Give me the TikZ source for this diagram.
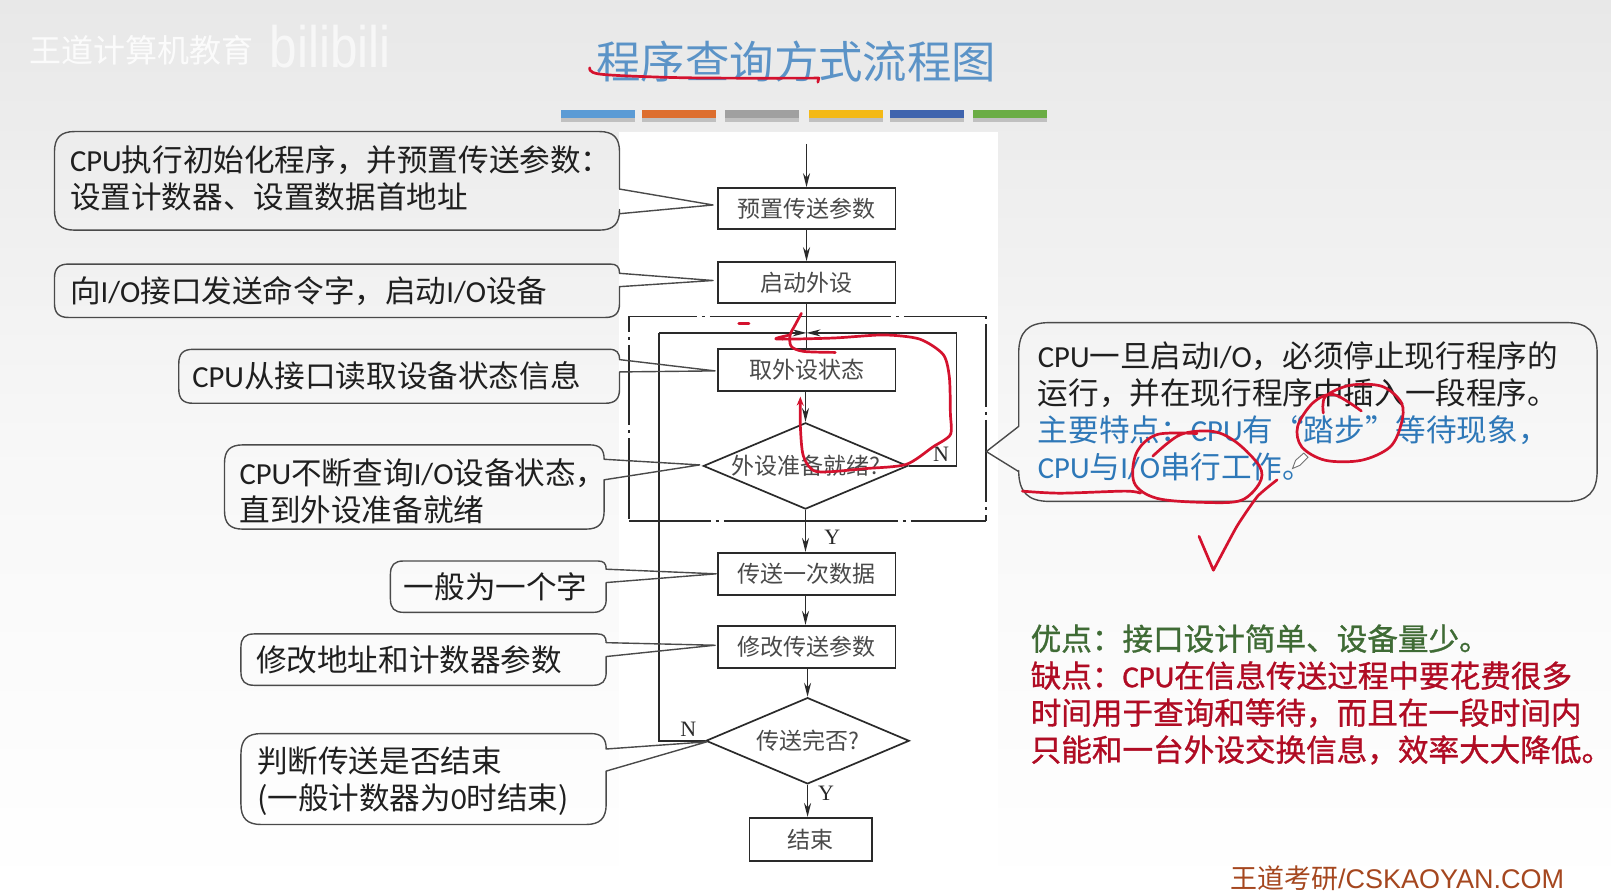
\documentclass[tikz,border=0pt]{standalone}
\usepackage{fontspec}
\setmainfont{Noto Sans CJK SC}
\newfontfamily\latfont{Carlito}
\newfontfamily\medfont[FakeBold=1]{Noto Sans CJK SC}
\newfontfamily\medlat[FakeBold=1]{Carlito}
\newfontfamily\serfont{Liberation Serif}
\newfontfamily\arifont{Liberation Sans}
\newcommand\ltn[1]{{\latfont #1}}
\newcommand\mlt[1]{{\medlat #1}}
\usetikzlibrary{shapes.geometric,arrows.meta}
\definecolor{inkred}{HTML}{D4122E}
\definecolor{flowink}{HTML}{2A2A2A}
\definecolor{flowtxt}{HTML}{4A4A4A}
\definecolor{callink}{HTML}{4A4A4A}
\definecolor{titleblue}{HTML}{5B93C7}
\definecolor{footbrown}{HTML}{A5471F}
\tikzset{
  flowbox/.style={draw=flowink,line width=1.7pt,rectangle,inner sep=0pt,text=flowtxt,font=\fontsize{23}{26}\selectfont},
  flowdia/.style={draw=flowink,line width=1.7pt,diamond,aspect=2.4,inner sep=0pt,text=flowtxt,font=\fontsize{23}{26}\selectfont},
  flowline/.style={draw=flowink,line width=1.7pt},
  flowarr/.style={flowline,-{Stealth[length=14pt,width=7pt]}},
  lab/.style={inner sep=0pt,text=flowink,font=\fontsize{22}{24}\serfont},
  calltext/.style={anchor=west,inner sep=0pt,align=left,text=black!88,font=\fontsize{30.6}{37}\selectfont},
  redpen/.style={draw=inkred,line width=2.7pt,line cap=round,line join=round},
  shadowbar/.style={fill=black!45,opacity=.45},
}
% callout: x1 y1 x2 y2 base1 base2 tip-name radius
\newcommand\callout[8]{%
  \pgfmathsetmacro\sgn{ifthenelse(#3>#1,1,-1)}%
  \pgfmathsetmacro\rtop{min(#8,#5-#2)}%
  \draw[draw=callink,line width=1.4pt,line join=round]
    (#1+\sgn*#8,#2) -- (#3-\sgn*\rtop,#2) .. controls (#3-\sgn*\rtop*0.3,#2) and (#3,#2+\rtop*0.3) .. (#3,#2+\rtop) -- (#3,#5)
    -- (#7) -- (#3,#6)
    -- (#3,#4-#8) .. controls (#3,#4-#8*0.3) and (#3-\sgn*#8*0.3,#4) .. (#3-\sgn*#8,#4) -- (#1+\sgn*#8,#4) .. controls (#1+\sgn*#8*0.3,#4) and (#1,#4-#8*0.3) .. (#1,#4-#8) -- (#1,#2+#8) .. controls (#1,#2+#8*0.3) and (#1+\sgn*#8*0.3,#2) .. (#1+\sgn*#8,#2) -- cycle;}
\begin{document}
\begin{tikzpicture}[x=1.0274pt,y=-1.0274pt]
\useasboundingbox (0,0) rectangle (1568,871);
\shade[top color=black!9,bottom color=white,middle color=black!3] (0,0) rectangle (1568,871);
\fill[white] (602,128) rectangle (971,871);

% watermark
\node[anchor=west,inner sep=0pt,text=white,opacity=.85,font=\fontsize{32}{33}\selectfont] (wm) at (29,49) {王道计算机教育};
\node[anchor=west,inner sep=0pt,text=white,opacity=.65,font=\fontsize{30}{33}\arifont,yscale=1.95,xscale=1.65] (bili) at (262,45) {bilibili};

% title and bars
\node[inner sep=0pt,text=titleblue,font=\fontsize{44.4}{48}\selectfont] (title) at (775,60) {程序查询方式流程图};
\foreach \xa/\xb/\col in {546/618/5B9BD5,625/697/DD6E2E,706/778/A0A0A0,787/859/F4B916,866/938/3F64AE,947/1019/6BAD45}{
  \fill[shadowbar] (\xa,109) rectangle (\xb,119);
  \definecolor{bc}{HTML}{\col}
  \fill[bc] (\xa,107) rectangle (\xb,115);
}

% flow chart
\coordinate (start) at (785,140);
\node[flowbox,minimum width=1.0274*173pt,minimum height=1.0274*40pt] (b1) at (785,203) {预置传送参数};
\node[flowbox,minimum width=1.0274*173pt,minimum height=1.0274*40pt] (b2) at (785,275) {启动外设};
\node[flowbox,minimum width=1.0274*173pt,minimum height=1.0274*41pt] (b3) at (785,360) {取外设状态};
\node[flowdia,minimum width=1.0274*199pt,minimum height=1.0274*84pt] (d1) at (784,453.5) {外设准备就绪?};
\node[flowbox,minimum width=1.0274*173pt,minimum height=1.0274*41pt] (b4) at (785,558.5) {传送一次数据};
\node[flowbox,minimum width=1.0274*173pt,minimum height=1.0274*41pt] (b5) at (785,629.5) {修改传送参数};
\node[flowdia,minimum width=1.0274*198pt,minimum height=1.0274*84pt] (d2) at (786,721) {传送完否?};
\node[flowbox,minimum width=1.0274*119pt,minimum height=1.0274*42pt] (b6) at (789,817) {结束};

\coordinate (j1) at (785,324);
\coordinate (rt) at (931,324);
\coordinate (rb) at (931,453.5);
\coordinate (lt) at (641.5,324);
\coordinate (lb) at (641.5,721);
\draw[flowarr] (start) -- (b1.north -| start);
\draw[flowarr] (b1.south -| start) -- (b2.north -| start);
\draw[flowline] (b2.south -| j1) -- (b3.north -| j1);
\draw[flowarr] (rt) -- (j1);
\draw[flowarr] (lt) -- (j1);
\draw[flowarr] (b3.south -| d1) -- (d1.north);
\draw[flowline] (d1.east) -- (rb) -- (rt);
\draw[flowarr] (d1.south) -- (b4.north -| d1);
\draw[flowarr] (b4.south -| d1) -- (b5.north -| d1);
\draw[flowarr] (b5.south -| d2) -- (d2.north);
\draw[flowarr] (d2.south) -- (b6.north -| d2);
\draw[flowline] (d2.west) -- (lb) -- (lt);

% dash-dot frame
\coordinate (fa) at (612,308);
\coordinate (fb) at (960,507);
\draw[flowline,dash pattern=on 181pt off 5pt on 3pt off 5pt,dash phase=113pt] (fa) -- (fa -| fb);
\draw[flowline,dash pattern=on 174pt off 5pt on 3pt off 5pt,dash phase=92pt] (fa |- fb) -- (fb);
\draw[flowline,dash pattern=on 80.5pt off 5pt on 3pt off 5pt,dash phase=65pt] (fa) -- (fa |- fb);
\draw[flowline,dash pattern=on 82.5pt off 5pt on 3pt off 5pt,dash phase=87.5pt] (fa -| fb) -- (fb);

\node[lab] (n1) at (916,442) {N};
\node[lab] (y1) at (810,523) {Y};
\node[lab] (n2) at (670,710) {N};
\node[lab] (y2) at (804,772) {Y};

% callouts
\coordinate (t1) at (694,199.5);
\coordinate (t2) at (694,273);
\coordinate (t3) at (696,361);
\coordinate (t4) at (681,452.5);
\coordinate (t5) at (697,558.5);
\coordinate (t6) at (696,628);
\coordinate (t7) at (688,722);
\coordinate (t8) at (960,439.5);
\callout{53}{128}{603}{224}{184}{208}{t1}{20}
\callout{53}{257}{603}{309}{266}{279}{t2}{14}
\callout{174}{340}{603}{392.5}{350}{362}{t3}{14}
\callout{218.5}{433}{588}{515}{447}{467}{t4}{18}
\callout{380}{546}{590}{596}{554}{567}{t5}{13}
\callout{234.5}{617}{590}{667}{625.5}{639}{t6}{13}
\callout{234.5}{714}{590}{802.5}{729}{750.5}{t7}{20}
\callout{1554.5}{314}{991.5}{488}{415}{459}{t8}{30}

\node[calltext] (c1) at (68,173.5) {\ltn{CPU}执行初始化程序，并预置传送参数：\\设置计数器、设置数据首地址};
\node[calltext] (c2) at (68,283.5) {向\ltn{I/O}接口发送命令字，启动\ltn{I/O}设备};
\node[calltext] (c3) at (187,366) {\ltn{CPU}从接口读取设备状态信息};
\node[calltext] (c4) at (233,478) {\ltn{CPU}不断查询\ltn{I/O}设备状态，\\直到外设准备就绪};
\node[calltext] (c5) at (393,571) {一般为一个字};
\node[calltext] (c6) at (249,642) {修改地址和计数器参数};
\node[calltext] (c7) at (250,760) {判断传送是否结束\\(一般计数器为\ltn{0}时结束)};
\node[calltext] (c8) at (1010,400) {\ltn{CPU}一旦启动\ltn{I/O}，必须停止现行程序的\\运行，并在现行程序中插入一段程序。\\\textcolor[HTML]{2E78B8}{主要特点：\ltn{CPU}有“踏步”等待现象，}\\\textcolor[HTML]{2E78B8}{\ltn{CPU}与\ltn{I/O}串行工作。}};

\node[anchor=west,inner sep=0pt,align=left,font=\fontsize{30.6}{37}\medfont] (pc) at (1003,676) {\textcolor[HTML]{3F6B35}{优点：接口设计简单、设备量少。}\\\textcolor[HTML]{B00C24}{缺点：\mlt{CPU}在信息传送过程中要花费很多}\\\textcolor[HTML]{B00C24}{时间用于查询和等待，而且在一段时间内}\\\textcolor[HTML]{B00C24}{只能和一台外设交换信息，效率大大降低。}};
\node[anchor=west,inner sep=0pt,text=footbrown,font=\fontsize{27}{30}\selectfont] (ft) at (1197,855) {王道考研\arifont/CSKAOYAN.COM};

% handwriting
\draw[redpen] plot[smooth,tension=.6] coordinates {(574,66) (583,72) (640,75) (700,76) (797,76)} -- (796,80);
\draw[redpen] (719,315) -- (729,315);
\draw[redpen] plot[smooth,tension=.5] coordinates {(780,305) (773,318) (769,326) (770,337) (782,342) (813,343)};
\draw[redpen,-{Stealth[length=9pt,width=7pt]}] plot[smooth,tension=.45] coordinates {(769,326) (756,330) (811,329) (860,326) (895,330) (918,345) (924,367) (925,402) (925,423) (908,435) (882,452) (843,456) (795,459) (782,444) (779,415) (779,386)};
\draw[redpen] plot[smooth,tension=.5] coordinates {(995,478) (1032,480) (1095,478) (1110,480)};
\draw[redpen] plot[smooth,tension=.55] coordinates {(1122,444) (1149,423) (1181,420) (1204,431) (1226,454) (1226,470) (1208,487) (1173,489) (1126,485) (1104,470) (1106,441) (1126,423) (1165,422)};
\draw[redpen] plot[smooth,tension=.55] coordinates {(1288,402) (1290,386) (1314,375) (1345,376) (1364,392) (1364,412) (1353,435) (1325,448) (1290,448) (1267,435) (1263,415) (1278,392) (1298,384) (1325,400)};
\draw[redpen] plot[smooth,tension=.3] coordinates {(1243,467) (1224,483) (1204,512) (1181,555)} -- (1167,522);
% pencil cursor
\draw[draw=black!55,fill=white,line width=.9pt] (1258,456) -- (1261,448) -- (1269,441) -- (1273,445) -- (1265,453) -- cycle;
\end{tikzpicture}
\end{document}
